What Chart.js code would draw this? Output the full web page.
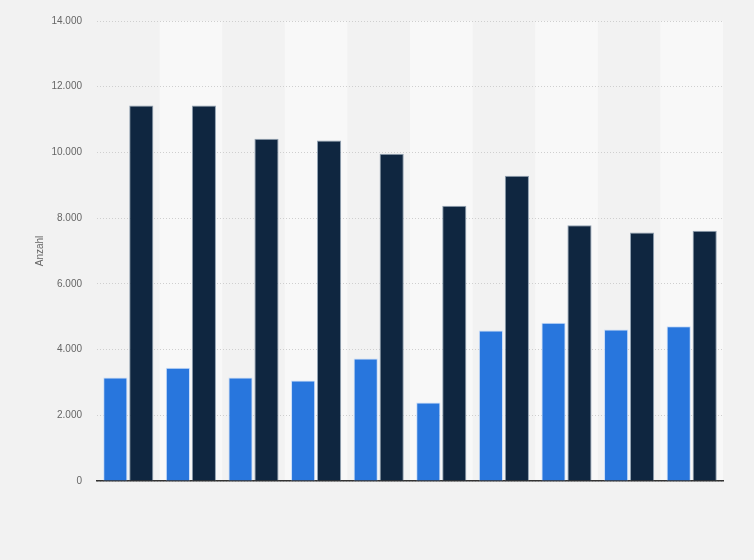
<!DOCTYPE html>
<html>
<head>
<meta charset="utf-8">
<script src="https://cdn.jsdelivr.net/npm/chart.js@4"></script>
<style>
  body { margin: 0; background: #f2f2f2; }
  #wrap { width: 754px; height: 560px; }
</style>
</head>
<body>
<div id="wrap"><canvas id="myChart" width="754" height="560"></canvas></div>
<script>
var labels = ['1', '2', '3', '4', '5', '6', '7', '8', '9', '10'];
var serieHell = [3150, 3450, 3150, 3060, 3730, 2390, 4580, 4820, 4610, 4710];
var serieDunkel = [11430, 11430, 10420, 10360, 9960, 8380, 9290, 7780, 7560, 7620];
var yTicks = [0, 2000, 4000, 6000, 8000, 10000, 12000, 14000];

// abwechselnde Hintergrundstreifen pro Kategorie
var streifen = {
    id: 'streifen',
    beforeDraw: function (chart) {
        var ctx = chart.ctx;
        var area = chart.chartArea;
        var x = chart.scales.x;
        var breite = (area.right - area.left) / labels.length;
        ctx.save();
        ctx.fillStyle = '#f2f2f2';
        ctx.fillRect(0, 0, chart.width, chart.height);
        ctx.fillStyle = '#f8f8f8';
        for (var i = 1; i < labels.length; i += 2) {
            var mitte = x.getPixelForValue(i);
            ctx.fillRect(mitte - breite / 2, area.top, breite, area.bottom - area.top);
        }
        ctx.restore();
    }
};

var ctx = document.getElementById('myChart').getContext('2d');
var myChart = new Chart(ctx, {
    type: 'bar',
    data: {
        labels: labels,
        datasets: [{
            label: 'Serie 1',
            data: serieHell,
            backgroundColor: '#2876dd',
            borderColor: 'rgba(190, 215, 250, 0.8)',
            borderWidth: 1
        }, {
            label: 'Serie 2',
            data: serieDunkel,
            backgroundColor: '#0f2640',
            borderColor: 'rgba(120, 140, 160, 0.8)',
            borderWidth: 1
        }]
    },
    options: {
        responsive: false,
        animation: false,
        layout: {
            padding: { top: 20, right: 31, bottom: 79, left: 0 }
        },
        datasets: {
            bar: {
                categoryPercentage: 0.83,
                barPercentage: 0.93
            }
        },
        scales: {
            x: {
                afterFit: function (s) { s.height = 0; },
                ticks: { display: false },
                grid: { display: false },
                border: { display: true, color: '#333333', width: 1.5 }
            },
            y: {
                min: 0,
                max: 14000,
                afterFit: function (s) { s.width = 97; },
                afterBuildTicks: function (s) {
                    s.ticks = yTicks.map(function (v) { return { value: v }; });
                },
                ticks: {
                    padding: 15,
                    color: '#666666',
                    font: { family: 'Liberation Sans, Arial, sans-serif', size: 10 },
                    callback: function (v) { return v.toLocaleString('de-DE'); }
                },
                grid: {
                    color: '#cfcfcf',
                    drawTicks: false
                },
                border: { display: false, dash: [1, 2] },
                title: {
                    display: true,
                    text: 'Anzahl',
                    color: '#666666',
                    font: { family: 'Liberation Sans, Arial, sans-serif', size: 10 },
                    padding: { top: 34 }
                }
            }
        },
        plugins: {
            legend: { display: false },
            tooltip: { enabled: false }
        }
    },
    plugins: [streifen]
});
</script>
</body>
</html>
